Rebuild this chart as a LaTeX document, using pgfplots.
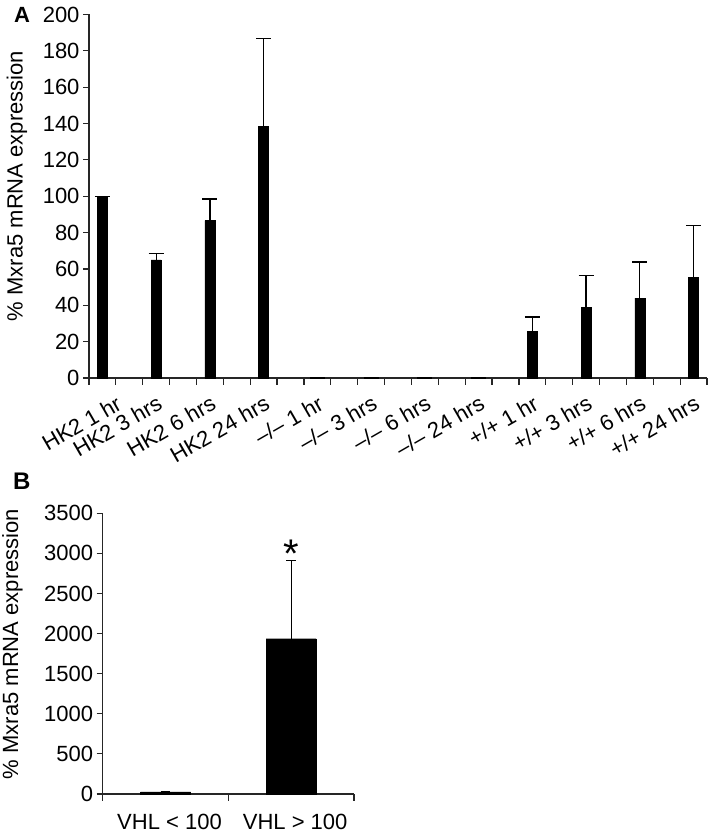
\documentclass[border=0pt]{standalone}
\usepackage{fontspec}
\setmainfont{Liberation Sans}
\usepackage{pgfplots}
\pgfplotsset{compat=1.18}
\pgfplotsset{
  common/.style={
    scale only axis,
    anchor=south west,
    axis lines=left,
    axis line style={-, line width=1.2bp, black!85},
    tick style={line width=1.2bp, black!85},
    tick align=outside,
    major tick length=6bp,
    minor tick length=7bp,
    major x tick style={draw=none},
    ybar,
    /pgf/number format/assume math mode=true,
    /pgf/number format/1000 sep={},
    ticklabel style={font=\fontsize{22bp}{26bp}\selectfont},
    label style={font=\fontsize{22bp}{26bp}\selectfont},
    ylabel={\% Mxra5 mRNA expression},
    clip=false,
  }
}
\begin{document}
\begin{tikzpicture}[x=1bp,y=1bp]
\useasboundingbox (0,0) rectangle (709,835);
\node[anchor=north west, inner sep=0, font=\fontsize{22bp}{26bp}\selectfont\bfseries] at (14,828) {A};
\node[anchor=north west, inner sep=0, font=\fontsize{24bp}{28bp}\selectfont\bfseries] at (13,362) {B};

\begin{axis}[common,
  at={(89bp,457bp)}, width=618bp, height=363.5bp,
  xmin=-0.5, xmax=22.5, ymin=0, ymax=200,
  ytick={0,20,...,200},
  xtick={2,4,...,22},
  minor xtick={-0.5,0.5,...,22.5},
  xticklabels={HK2 3 hrs, HK2 6 hrs, HK2 24 hrs,
    \textendash/\textendash\ 1 hr, \textendash/\textendash\ 3 hrs, \textendash/\textendash\ 6 hrs, \textendash/\textendash\ 24 hrs,
    +/+ 1 hr, +/+ 3 hrs, +/+ 6 hrs, +/+ 24 hrs},
  xticklabel style={yshift=-9bp, rotate=30, anchor=north east, inner sep=1bp},
  extra x ticks={0},
  extra x tick labels={HK2 1 hr},
  extra x tick style={tick style={draw=none}, xticklabel style={rotate=-30, xshift=13bp, rotate=30}},
  ylabel style={at={(axis description cs:-0.1165,0.528)}, anchor=center},
  bar width=10bp,
]
\addplot[fill=black, draw=black,
  error bars/.cd, y dir=plus, y explicit,
  error bar style={line width=1.2bp, black},
  error mark options={rotate=90, mark size=7.5bp, line width=1.2bp, black}]
coordinates {
  (0,100) +- (0,0)
  (2,65) +- (0,3.6)
  (4,86.6) +- (0,11.9)
  (6,138.3) +- (0,48.7)
  (8,0) +- (0,0)
  (10,0) +- (0,0)
  (12,0) +- (0,0)
  (14,0) +- (0,0)
  (16,25.7) +- (0,7.9)
  (18,39) +- (0,17.3)
  (20,44) +- (0,19.8)
  (22,55.5) +- (0,28.3)
};
\end{axis}

\begin{axis}[common,
  at={(102.7bp,41bp)}, width=251.3bp, height=280.7bp,
  xmin=-0.5, xmax=1.5, ymin=0, ymax=3500,
  ytick={0,500,...,3500},
  xtick={0,1},
  minor xtick={-0.5,0.5,1.5},
  xticklabels={VHL < 100, VHL > 100},
  xticklabel style={anchor=north, yshift=-11bp, xshift=4bp},
  ylabel style={at={(axis description cs:-0.359,0.534)}, anchor=center},
  bar width=50bp,
]
\addplot[fill=black, draw=black,
  error bars/.cd, y dir=plus, y explicit,
  error bar style={line width=1.2bp, black},
  error mark options={rotate=90, mark size=4.7bp, line width=1.2bp, black}]
coordinates {
  (0,25) +- (0,6)
  (1,1936) +- (0,973)
};
\node[anchor=base, inner sep=0, font=\fontsize{40bp}{40bp}\selectfont] at (axis cs:1,2830) {*};
\end{axis}
\end{tikzpicture}
\end{document}
